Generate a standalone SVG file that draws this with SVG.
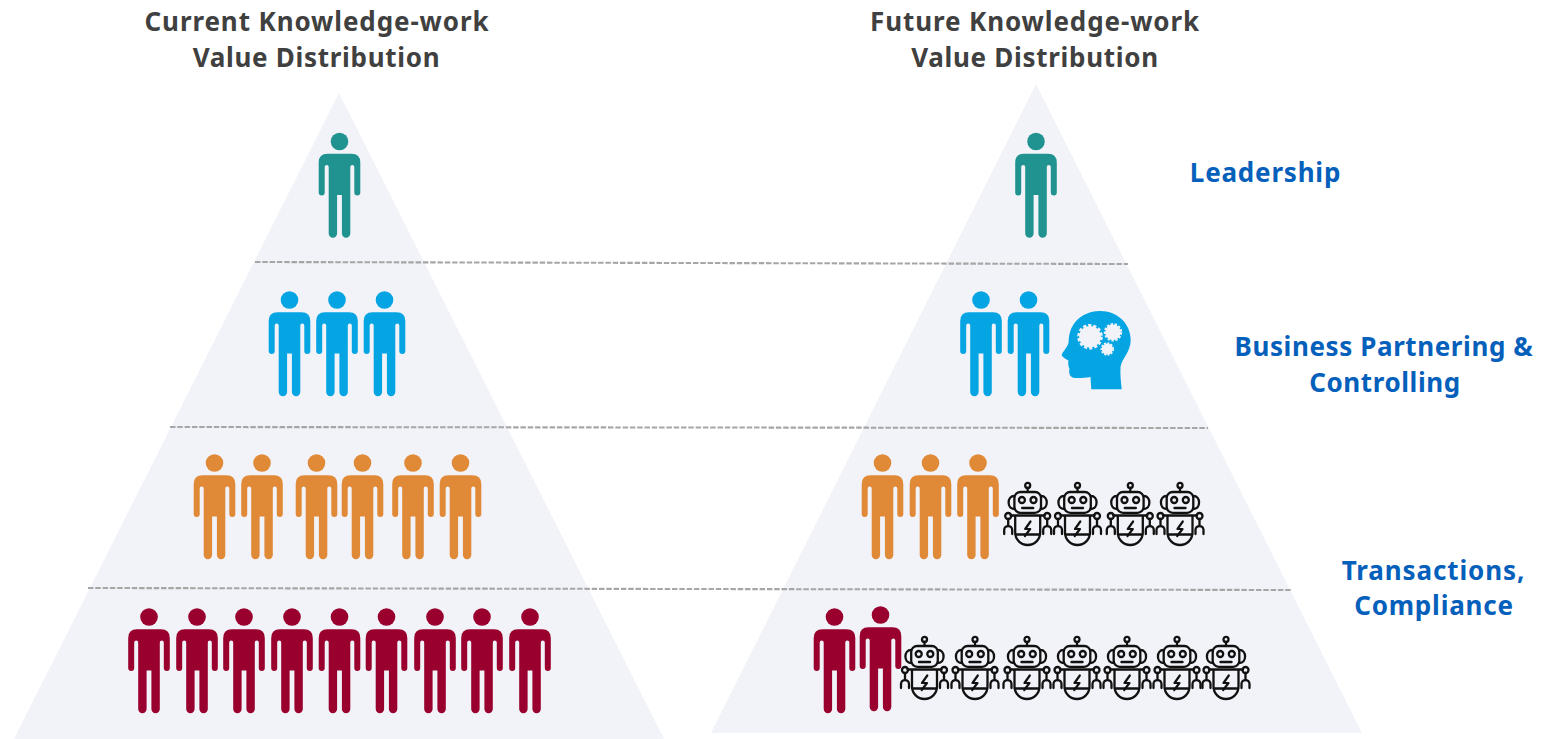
<svg xmlns="http://www.w3.org/2000/svg" xmlns:xlink="http://www.w3.org/1999/xlink" width="1562" height="739" viewBox="0 0 1562 739">
<style>
.tri{fill:#f2f3f9}
.t{font-family:"Noto Sans","Open Sans",sans-serif;font-weight:700;text-anchor:middle;font-size:26px}
.h{fill:#404040;letter-spacing:.9px}
.l{fill:#0560bb;letter-spacing:.6px}
.dash{stroke:#a6a6a6;stroke-width:2.1;stroke-dasharray:5.500 1.800;fill:none}
.teal{fill:#209390}.blue{fill:#05a4e2}.orange{fill:#e08a38}.red{fill:#99002e}
.rb{fill:none;stroke:#111;stroke-width:2.3;stroke-linecap:round;stroke-linejoin:round}
</style>
<defs>
<g id="p">
<circle cx="0" cy="0" r="8.8"/>
<path d="M-12,12.3H12Q20.8,12.3 20.8,21V51a3,3 0 0 1-6,0V25.500a2,2 0 0 0-4,0V92a4.200,4.200 0 0 1-8.400,0V53.500H-2.400V92a4.200,4.200 0 0 1-8.400,0V25.500a2,2 0 0 0-4,0V51a3,3 0 0 1-6,0V21Q-20.8,12.3-12,12.3Z"/>
</g>
<g id="r" class="rb">
<circle cx="0" cy="3.400" r="2.500"/><path d="M0,6V10"/>
<rect x="-13.300" y="10" width="26.600" height="20.800" rx="6"/>
<path d="M-13.300,14C-21,14-21,27-13.300,27M13.300,14C21,14 21,27 13.300,27"/>
<circle cx="-5.800" cy="18" r="3"/><circle cx="5.800" cy="18" r="3"/>
<path d="M-5.500,26H5.500" stroke-width="2.400"/>
<path d="M-17,33.500H17M-12.500,33.500V50.500A12.500,12.500 0 0 0 12.500,50.500V33.500M-12.500,52.500H12.500"/>
<circle cx="-19.500" cy="34" r="3"/><circle cx="19.500" cy="34" r="3"/>
<path d="M-19.500,37V44M19.500,37V44M-23.500,52V48A4,4 0 0 1-15.500,48V52M23.500,52V48A4,4 0 0 0 15.500,48V52"/>
<path d="M2.800,39.500L-2.500,47H2.500L-2.800,54" stroke-width="2.200"/>
</g>
</defs>
<g id="pyramid-left"><polygon class="tri" points="339,93 664,739 14,739"/></g>
<g id="pyramid-right"><polygon class="tri" points="1036,84 1362,733 711,733"/></g>
<g id="connectors">
<path class="dash" d="M255,262L1128,264"/>
<path class="dash" d="M170,427L1208,428"/>
<path class="dash" d="M88,588L1292,590"/>
</g>
<g id="title-left"><text class="t h" x="317" y="31">Current Knowledge-work</text><text class="t h" x="316.500" y="67" style="letter-spacing:.7px">Value Distribution</text></g>
<g id="title-right"><text class="t h" x="1035" y="31">Future Knowledge-work</text><text class="t h" x="1035" y="67" style="letter-spacing:.7px">Value Distribution</text></g>
<g id="label-leadership"><text class="t l" x="1265.500" y="182" style="letter-spacing:.8px">Leadership</text></g>
<g id="label-business"><text class="t l" x="1384" y="356">Business Partnering &amp;</text><text class="t l" x="1385" y="392">Controlling</text></g>
<g id="label-transactions"><text class="t l" x="1433.500" y="580" style="letter-spacing:.9px">Transactions,</text><text class="t l" x="1434" y="615" style="letter-spacing:.8px">Compliance</text></g>
<g id="left-leadership" class="teal"><use xlink:href="#p" x="339.500" y="141.500"/></g>
<g id="left-business" class="blue"><use xlink:href="#p" x="289.500" y="300"/><use xlink:href="#p" x="337" y="300"/><use xlink:href="#p" x="384.500" y="300"/></g>
<g id="left-controlling" class="orange"><use xlink:href="#p" x="214.500" y="463"/><use xlink:href="#p" x="262" y="463"/><use xlink:href="#p" x="316.500" y="463"/><use xlink:href="#p" x="362.500" y="463"/><use xlink:href="#p" x="413" y="463"/><use xlink:href="#p" x="460.500" y="463"/></g>
<g id="left-transactions" class="red"><use xlink:href="#p" x="149" y="617"/><use xlink:href="#p" x="197" y="617"/><use xlink:href="#p" x="244" y="617"/><use xlink:href="#p" x="292" y="617"/><use xlink:href="#p" x="339.500" y="617"/><use xlink:href="#p" x="386.500" y="617"/><use xlink:href="#p" x="435" y="617"/><use xlink:href="#p" x="482" y="617"/><use xlink:href="#p" x="530" y="617"/></g>
<g id="right-leadership" class="teal"><use xlink:href="#p" x="1036" y="141.500"/></g>
<g id="right-business" class="blue"><use xlink:href="#p" x="981" y="300"/><use xlink:href="#p" x="1028.500" y="300"/>
<path id="brain-head" d="M1091.300,389.300L1090.500,377C1084,378 1076,378.500 1072.500,377.500C1069.500,376 1068.500,372 1069.500,369C1068,366 1068,362 1068.500,360.500C1066,359 1062,357 1061.700,355C1062,352.500 1067,348 1068.500,343C1069,336 1069.500,332 1072,327C1077,317 1088,311 1100,311C1118,311 1130.700,324 1130.700,340C1130.700,352 1122,358 1120.500,367C1120,375 1121,382 1121.700,389.300Z"/>
<g fill="#f2f3f9" stroke="#f2f3f9"><circle cx="1090" cy="336.700" r="10.800" stroke="none"/><circle cx="1090" cy="336.700" r="11.500" fill="none" stroke-width="2.600" stroke-dasharray="3.200 2"/><circle cx="1113" cy="332.300" r="7.800" stroke="none"/><circle cx="1113" cy="332.300" r="8.200" fill="none" stroke-width="2" stroke-dasharray="2.400 1.600"/><circle cx="1107.300" cy="349" r="5.500" stroke="none"/><circle cx="1107.300" cy="349" r="5.900" fill="none" stroke-width="1.700" stroke-dasharray="2 1.400"/></g></g>
<g id="right-controlling"><g class="orange"><use xlink:href="#p" x="882.500" y="463"/><use xlink:href="#p" x="930.500" y="463"/><use xlink:href="#p" x="978" y="463"/></g><use xlink:href="#r" x="1027.700" y="482"/><use xlink:href="#r" x="1077.500" y="482"/><use xlink:href="#r" x="1130.300" y="482"/><use xlink:href="#r" x="1180" y="482"/></g>
<g id="right-transactions"><g class="red"><use xlink:href="#p" x="834.500" y="617"/><use xlink:href="#p" x="880.500" y="615"/></g><use xlink:href="#r" x="924.500" y="636"/><use xlink:href="#r" x="975" y="636"/><use xlink:href="#r" x="1027" y="636"/><use xlink:href="#r" x="1077" y="636"/><use xlink:href="#r" x="1127" y="636"/><use xlink:href="#r" x="1177" y="636"/><use xlink:href="#r" x="1226" y="636"/></g>
</svg>
